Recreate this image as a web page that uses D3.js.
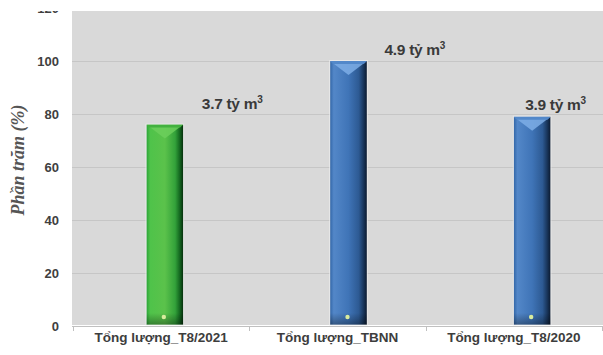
<!DOCTYPE html>
<html>
<head>
<meta charset="utf-8">
<script src="https://cdn.jsdelivr.net/npm/d3@7"></script>
<style>
  html, body { margin: 0; padding: 0; background: #ffffff; }
  svg { display: block; }
</style>
</head>
<body>
<svg id="chart" width="603" height="355"></svg>
<script>
// Water volume in August compared with the long-term average (TBNN = 100%)
const categories = ["Tổng lượng_T8/2021", "Tổng lượng_TBNN", "Tổng lượng_T8/2020"];
const percentValues = [76, 100, 79];      // bar heights, % of the long-term average
const volumeValues = [3.7, 4.9, 3.9];     // total volume, billion m³
const yTicks = [0, 20, 40, 60, 80, 100, 120];
const yTitle = "Phần trăm (%)";

// Per-bar label nudges (dx from bar centre, dy from bar top), in px
const labelNudge = [[37, -16], [36, -6], [-7, -7]];

const palettes = [
  { name: "green", stops: [["0%", "#2aa438"], ["10%", "#4fc34a"], ["50%", "#5bc24b"], ["78%", "#33a23a"], ["90%", "#156a21"], ["100%", "#062e0c"]], cap: "#6ccf5c", capEdge: "#3fae3d" },
  { name: "blue",  stops: [["0%", "#3367a8"], ["10%", "#5387c8"], ["50%", "#3f74b7"], ["78%", "#2d5a93"], ["90%", "#1a385f"], ["100%", "#0b1a30"]], cap: "#7eaee6", capEdge: "#4f85c8" }
];
const barPalette = [0, 1, 1];

const svg = d3.select("#chart");
const W = 603, H = 355;
const plot = { left: 72, right: 603, top: 11, bottom: 326 };

const defs = svg.append("defs");
palettes.forEach(p => {
  const g = defs.append("linearGradient").attr("id", "grad-" + p.name)
    .attr("x1", "0").attr("x2", "1").attr("y1", "0").attr("y2", "0");
  p.stops.forEach(s => g.append("stop").attr("offset", s[0]).attr("stop-color", s[1]));
});
// darkening towards the bar foot
const foot = defs.append("linearGradient").attr("id", "foot")
  .attr("x1", "0").attr("x2", "0").attr("y1", "0").attr("y2", "1");
foot.append("stop").attr("offset", "0%").attr("stop-color", "#000").attr("stop-opacity", 0);
foot.append("stop").attr("offset", "100%").attr("stop-color", "#000").attr("stop-opacity", 0.35);

defs.append("clipPath").attr("id", "frame")
  .append("rect").attr("x", 0).attr("y", plot.top).attr("width", W).attr("height", H - plot.top);

const root = svg.append("g").attr("clip-path", "url(#frame)");

// Scales
const y = d3.scaleLinear().domain([0, 120]).range([plot.bottom, 8]);
const xCat = d3.scaleBand().domain(categories).range([73, 602]).padding(0);
const xBar = d3.scaleBand().domain(categories).range([73, 624]).paddingInner(0.8).paddingOuter(0.4);

// Plot background
root.append("rect")
  .attr("x", plot.left).attr("y", plot.top)
  .attr("width", plot.right - plot.left).attr("height", plot.bottom - 1 - plot.top)
  .attr("fill", "#d9d9d9");

// Gridlines
root.append("g").selectAll("line")
  .data(yTicks.filter(t => t > 0))
  .join("line")
  .attr("x1", plot.left).attr("x2", plot.right)
  .attr("y1", d => Math.round(y(d)) + 0.5).attr("y2", d => Math.round(y(d)) + 0.5)
  .attr("stroke", "#c6c6c6").attr("stroke-width", 1);

// Y axis labels
const yAxis = d3.axisLeft(y).tickValues(yTicks).tickSize(0).tickPadding(0);
root.append("g")
  .attr("transform", `translate(59,0)`)
  .call(yAxis)
  .call(g => g.select(".domain").remove())
  .call(g => g.selectAll("text")
    .attr("font-family", "'Liberation Sans', Arial, sans-serif")
    .attr("font-size", 13).attr("font-weight", "bold").attr("fill", "#404040"));

// Category axis
const xAxis = d3.axisBottom(xCat).tickSize(0).tickPadding(0);
const xg = root.append("g").attr("transform", `translate(0,${plot.bottom})`).call(xAxis);
xg.select(".domain").attr("stroke", "#c0c0c0").attr("d", `M${plot.left},0.5H${plot.right}`);
xg.selectAll("text")
  .attr("y", 12).attr("dy", "0.32em")
  .attr("font-family", "'Liberation Sans', Arial, sans-serif")
  .attr("font-size", 13.5).attr("font-weight", "bold").attr("fill", "#3d3d3d");
// boundary ticks between categories
xg.append("g").selectAll("line")
  .data(categories.map(c => xCat(c)).concat([xCat(categories[categories.length - 1]) + xCat.bandwidth()]))
  .join("line")
  .attr("x1", d => Math.round(d) + 0.5).attr("x2", d => Math.round(d) + 0.5)
  .attr("y1", 0).attr("y2", 5)
  .attr("stroke", "#c0c0c0");

// Bars with bevelled caps
const bars = root.append("g").selectAll("g.bar")
  .data(categories.map((c, i) => ({ c, i, v: percentValues[i], vol: volumeValues[i], p: palettes[barPalette[i]] })))
  .join("g").attr("class", "bar");

bars.each(function (d) {
  const g = d3.select(this);
  const x0 = xBar(d.c), w = xBar.bandwidth(), x1 = x0 + w, cx = x0 + w / 2;
  const top = y(d.v), bottom = y(0) - 1;
  g.append("rect").attr("x", x0).attr("y", top).attr("width", w).attr("height", bottom - top)
    .attr("fill", `url(#grad-${d.p.name})`);
  // cap bevel
  g.append("path")
    .attr("d", `M${x0},${top}L${x1},${top}L${cx},${top + 14}Z`)
    .attr("fill", d.p.cap).attr("opacity", 0.85);
  g.append("path")
    .attr("d", `M${x0},${top}L${x0 + 3},${top + 3}L${x1 - 3},${top + 3}L${x1},${top}Z`)
    .attr("fill", d.p.capEdge).attr("opacity", 0.9);
  // foot shading
  g.append("rect").attr("x", x0).attr("y", bottom - 12).attr("width", w).attr("height", 12)
    .attr("fill", "url(#foot)");
  // light outline
  g.append("rect").attr("x", x0 - 0.5).attr("y", top - 0.5).attr("width", w + 1).attr("height", bottom - top + 0.5)
    .attr("fill", "none").attr("stroke", "#eeeeee").attr("stroke-width", 1).attr("opacity", 0.7);
  // glint near the foot
  g.append("circle").attr("cx", cx - 1).attr("cy", bottom - 8).attr("r", 2.2).attr("fill", "#d9ec9e");

  // value label
  const t = g.append("text")
    .attr("x", cx + labelNudge[d.i][0]).attr("y", top + labelNudge[d.i][1])
    .attr("font-family", "'Liberation Sans', Arial, sans-serif")
    .attr("font-size", 15.5).attr("font-weight", "bold").attr("fill", "#3a3a3a")
    .attr("letter-spacing", "-0.3");
  t.append("tspan").text(`${d.vol.toFixed(1)} tỷ m`);
  t.append("tspan").attr("dy", -6).attr("font-size", 10).text("3");
});

// Y axis title
svg.append("text")
  .attr("transform", `translate(24,${160}) rotate(-90)`)
  .attr("text-anchor", "middle")
  .attr("font-family", "'Liberation Serif', 'Times New Roman', serif")
  .attr("font-style", "italic").attr("font-weight", "bold")
  .attr("font-size", 18).attr("fill", "#555555")
  .text(yTitle);
</script>
</body>
</html>
